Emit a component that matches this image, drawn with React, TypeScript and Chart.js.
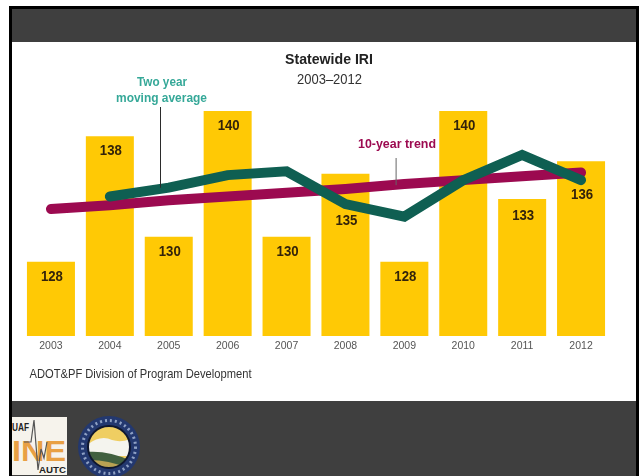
import React, { useEffect, useRef } from "react";
import { Chart, registerables } from "chart.js";

Chart.register(...registerables);

// Statewide IRI by year
const years = ["2003", "2004", "2005", "2006", "2007", "2008", "2009", "2010", "2011", "2012"];
const iri = [128, 138, 130, 140, 130, 135, 128, 140, 133, 136];
const movingAverage = [null, 133.2, 133.9, 134.9, 135.2, 132.6, 131.6, 134.5, 136.5, 134.5];
const trend = [132.2, 132.5, 132.9, 133.2, 133.5, 133.8, 134.2, 134.5, 134.8, 135.1];

const SANS = '"Liberation Sans", sans-serif';
const AMBER = "#ffc905";
const MAROON = "#9c0a50";
const PINE = "#0f5f52";
const TEAL = "#35a898";

// Labels pushed further down their bars so the lines stay clear of them.
const extraLabelDrop: Record<string, number> = { "2008": 32, "2012": 19, "2011": 2 };

const annotations = {
  id: "annotations",
  afterDatasetsDraw(chart: any) {
    const { ctx, scales } = chart;
    const { x, y } = scales;
    ctx.save();
    ctx.textAlign = "center";
    ctx.textBaseline = "middle";

    // Bar values
    ctx.fillStyle = "#33230a";
    ctx.font = `bold 15px ${SANS}`;
    iri.forEach((value, i) => {
      const drop = 15 + (extraLabelDrop[years[i]] ?? 0);
      ctx.fillText(String(value), x.getPixelForValue(i) + 1, y.getPixelForValue(value) + drop, 22);
    });

    // Leader lines from the callouts to their series
    ctx.lineWidth = 1;
    ctx.strokeStyle = "#2b2b2b";
    const avgX = x.getPixelForValue(1.86);
    ctx.beginPath();
    ctx.moveTo(avgX, 107);
    ctx.lineTo(avgX, y.getPixelForValue(133.9));
    ctx.stroke();
    ctx.strokeStyle = "#666666";
    const trendX = x.getPixelForValue(5.86);
    ctx.beginPath();
    ctx.moveTo(trendX, 158);
    ctx.lineTo(trendX, y.getPixelForValue(134.1));
    ctx.stroke();

    // Callouts
    ctx.fillStyle = TEAL;
    ctx.font = `bold 13px ${SANS}`;
    ctx.fillText("Two year", 162, 82, 50);
    ctx.fillText("moving average", 161.5, 98, 91);
    ctx.fillStyle = MAROON;
    ctx.fillText("10-year trend", 397, 144, 78);

    // Title block
    ctx.fillStyle = "#222222";
    ctx.font = `bold 15.5px ${SANS}`;
    ctx.fillText("Statewide IRI", 329, 60, 88);
    ctx.fillStyle = "#333333";
    ctx.font = `14px ${SANS}`;
    ctx.fillText("2003\u20132012", 329.5, 80, 65);

    // Source line
    ctx.textAlign = "left";
    ctx.fillStyle = "#333333";
    ctx.font = `13px ${SANS}`;
    ctx.fillText("ADOT&PF Division of Program Development", 29.5, 374.5, 222);
    ctx.restore();
  },
};

function Logos() {
  return (
    <svg width={639} height={476} style={{ position: "absolute", left: 0, top: 0 }}>
      <rect x={12} y={417} width={55} height={58} fill="#f6f3ec" />
      <text x={12} y={431} fontFamily="Liberation Sans" fontWeight="bold" fontSize={10} fill="#222" textLength={17} lengthAdjust="spacingAndGlyphs">UAF</text>
      <text x={12} y={461} fontFamily="Liberation Sans" fontWeight="bold" fontSize={30} fill="#e9a044" textLength={54} lengthAdjust="spacingAndGlyphs">INE</text>
      <polyline points="24,442 31,442 34,420 38,470 41,449 44,458 47,442" fill="none" stroke="#555" strokeWidth={1.2} />
      <text x={39} y={473} fontFamily="Liberation Sans" fontWeight="bold" fontSize={9.5} fill="#222" textLength={27} lengthAdjust="spacingAndGlyphs">AUTC</text>
      <circle cx={109} cy={447} r={31} fill="#23386f" />
      <circle cx={109} cy={447} r={26.5} fill="none" stroke="#8ea0c4" strokeWidth={3} strokeDasharray="2 3" />
      <clipPath id="seal-inner"><circle cx={109} cy={447} r={21} /></clipPath>
      <g clipPath="url(#seal-inner)">
        <rect x={85} y={424} width={48} height={46} fill="#efce62" />
        <path d="M86 446 Q100 434 112 440 Q122 443 133 438 L133 456 L86 456 Z" fill="#f4f4ee" />
        <path d="M86 452 Q110 450 133 462 L133 470 L86 470 Z" fill="#41603f" />
        <path d="M86 460 Q108 459 133 470 L86 470 Z" fill="#b9a253" />
      </g>
      <circle cx={109} cy={447} r={21} fill="none" stroke="#10182f" strokeWidth={2} />
    </svg>
  );
}

export default function App() {
  const canvasRef = useRef<HTMLCanvasElement | null>(null);

  useEffect(() => {
    const chart = new Chart(canvasRef.current!, {
      type: "bar",
      data: {
        labels: years,
        datasets: [
          {
            type: "line",
            label: "Two year moving average",
            data: movingAverage,
            borderColor: PINE,
            borderWidth: 10,
            borderCapStyle: "round",
            borderJoinStyle: "miter",
            pointRadius: 0,
            tension: 0,
            order: 1,
          },
          {
            type: "line",
            label: "10-year trend",
            data: trend,
            borderColor: MAROON,
            borderWidth: 10,
            borderCapStyle: "round",
            pointRadius: 0,
            tension: 0,
            order: 2,
          },
          {
            type: "bar",
            label: "Statewide IRI",
            data: iri,
            backgroundColor: AMBER,
            categoryPercentage: 1,
            barPercentage: 0.815,
            order: 3,
          },
        ],
      } as any,
      options: {
        responsive: false,
        animation: false,
        layout: { padding: { left: 21.5, right: 28.5, top: 111, bottom: 120 } },
        plugins: { legend: { display: false }, title: { display: false }, tooltip: { enabled: false } },
        scales: {
          x: {
            grid: { display: false, drawTicks: false },
            border: { display: false },
            ticks: { color: "#555555", font: { family: SANS, size: 10.5 }, padding: 4, maxRotation: 0 },
            afterFit(scale: any) {
              scale.height = 20;
            },
          },
          y: { display: false, min: 122.1, max: 140 },
        },
      } as any,
      plugins: [annotations],
    });
    return () => chart.destroy();
  }, []);

  return (
    <div style={{ position: "absolute", left: 0, top: 0, width: 639, height: 476, background: "#ffffff", overflow: "hidden" }}>
      <div style={{ position: "absolute", left: 9, top: 6, width: 630, height: 470, background: "#000000" }} />
      <div style={{ position: "absolute", left: 12, top: 9, width: 624, height: 467, background: "#3f3f3f" }} />
      <div style={{ position: "absolute", left: 12, top: 42, width: 624, height: 359, background: "#ffffff" }} />
      <Logos />
      <canvas ref={canvasRef} width={639} height={476} style={{ position: "absolute", left: 0, top: 0 }} />
    </div>
  );
}
